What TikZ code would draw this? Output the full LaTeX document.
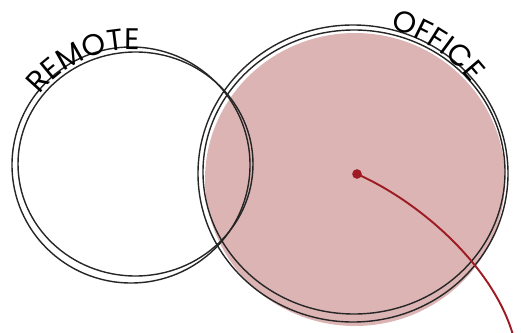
\documentclass[tikz,border=0pt]{standalone}
\usepackage{fontspec}
\newfontfamily\poppins{Poppins}
\usetikzlibrary{positioning, decorations.text}
\definecolor{rosa}{RGB}{220,180,180}
\definecolor{granate}{RGB}{158,27,35}

\begin{document}
\begin{tikzpicture}[x=0.02cm, y=0.02cm]

		% Parámetros del dibujo (en píxeles de la imagen)
		\def\rx{131}    % Centro x del círculo remoto
		\def\ry{167}    % Centro y del círculo remoto
		\def\ox{353}    % Centro x del círculo oficina
		\def\oy{158.5}  % Centro y del círculo oficina
		\def\letra{\poppins\fontsize{17}{17}\selectfont}

		\useasboundingbox (0,0) rectangle (521,332);

		% --- 1. RELLENO DE LA OFICINA ---
		\fill[rosa] (\ox+2, \oy-6) ellipse [x radius=150, y radius=146.5];

		% --- 2. CONTORNOS (trazo doble, a mano alzada) ---
		\draw[black!85, line width=0.8pt] (\rx, \ry) ellipse [x radius=119, y radius=118];
		\draw[black!85, line width=0.8pt] (\rx+4.5, \ry+1) ellipse [x radius=117.5, y radius=112];
		\draw[black!85, line width=0.8pt] (\ox, \oy) ellipse [x radius=155, y radius=148.5];
		\draw[black!85, line width=0.8pt] (\ox+1, \oy+1.5) ellipse [x radius=151, y radius=142];

		% --- 3. TEXTOS CURVOS ---
		\path[decorate, decoration={text along path, text align=center,
			text={|\letra|REMOTE}}]
			(\rx, \ry) ++(152:115) arc[start angle=152, end angle=76, radius=115];
		\path[decorate, decoration={text along path, text align=center,
			text={|\letra|OFFICE}}]
			(\ox, \oy) ++(86:149) arc[start angle=86, end angle=27, radius=149];

		% --- 4. PUNTO Y LÍNEA ---
		\node[circle, fill=granate, inner sep=0pt, minimum size=5.5pt] (punto) at (357, 158) {};
		\coordinate (cola) at (513, -3);
		\draw[granate, line width=1.1pt] (punto.center) .. controls (420, 130) and (493, 66) .. (cola);

\end{tikzpicture}
\end{document}
